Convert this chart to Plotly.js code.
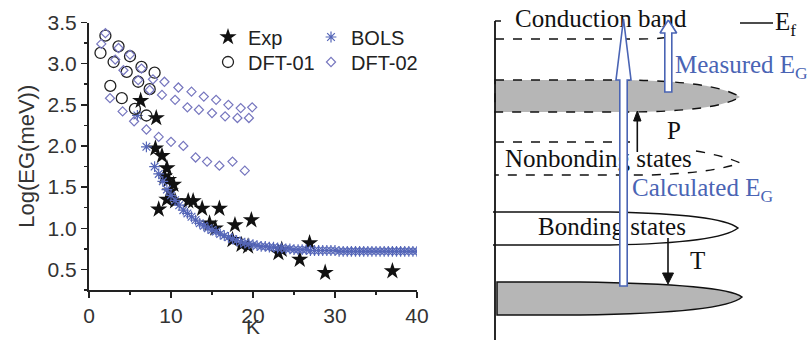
<!DOCTYPE html>
<html><head><meta charset="utf-8">
<script src="https://cdn.plot.ly/plotly-3.0.1.min.js"></script>
<style>html,body{margin:0;padding:0;background:#fff}#chart{width:807px;height:340px}</style>
</head><body><div id="chart"></div>
<script>
// ---- data ----
const expK = [6.3, 8.2, 8.1, 8.9, 9.2, 9.5, 9.7, 10.3, 9.9, 9.5, 8.5, 10.5, 12.1, 12.7, 13.8, 15.9, 14.7, 15.4, 17.8, 19.8, 17.5, 18.6, 19.4, 23.1, 23.5, 25.7, 26.9, 28.8, 37.0];
const expE = [2.55, 2.34, 1.97, 1.88, 1.63, 1.73, 1.59, 1.53, 1.45, 1.35, 1.23, 1.33, 1.33, 1.33, 1.24, 1.24, 1.06, 1.00, 1.04, 1.10, 0.86, 0.80, 0.78, 0.70, 0.74, 0.62, 0.82, 0.46, 0.48];

const dft01K = [1.4, 2.0, 3.0, 3.6, 4.6, 5.0, 6.0, 6.4, 7.4, 8.0, 2.6, 4.0, 5.6, 7.0];
const dft01E = [3.13, 3.34, 3.02, 3.21, 2.90, 3.09, 2.78, 2.96, 2.69, 2.89, 2.73, 2.58, 2.45, 2.37];

const dft02K = [1.5, 2.0, 3.2, 3.6, 4.2, 5.0, 6.0, 6.4, 7.4, 7.8,
  9.2, 10.9, 12.5, 14.0, 15.5, 17.0, 18.5, 19.9,
  8.9, 10.5, 12.0, 13.4, 15.0, 16.6, 18.1, 19.5,
  2.56, 4.1, 5.5, 7.0, 8.5, 10.0, 11.5, 13.0, 14.4, 15.9, 17.5, 19.0];
const dft02E = [3.24, 3.37, 3.05, 3.19, 2.92, 3.11, 2.80, 2.94, 2.68, 2.81,
  2.78, 2.71, 2.66, 2.60, 2.56, 2.50, 2.46, 2.47,
  2.62, 2.56, 2.47, 2.44, 2.40, 2.36, 2.34, 2.34,
  2.58, 2.42, 2.30, 2.20, 2.11, 2.05, 2.00, 1.86, 1.81, 1.76, 1.81, 1.70];

const bolsK = [5.9, 7.0, 8.0, 8.5, 9.0, 9.5, 10.0, 10.5, 11.0, 11.5, 12.0, 12.5, 13.0, 13.5, 14.0, 14.5, 15.0, 15.5, 16.0, 16.5, 17.0, 17.5, 18.0, 18.5, 19.0, 19.5, 20.0, 20.5, 21.0, 21.5, 22.0, 22.5, 23.0, 23.5, 24.0, 24.5, 25.0, 25.5, 26.0, 26.5, 27.0, 27.5, 28.0, 28.5, 29.0, 29.5, 30.0, 30.5, 31.0, 31.5, 32.0, 32.5, 33.0, 33.5, 34.0, 34.5, 35.0, 35.5, 36.0, 36.5, 37.0, 37.5, 38.0, 38.5, 39.0, 39.5, 40.0];
const bolsE = [2.37, 1.99, 1.75, 1.66, 1.57, 1.47, 1.40, 1.34, 1.28, 1.22, 1.18, 1.14, 1.10, 1.06, 1.03, 1.00, 0.98, 0.96, 0.93, 0.91, 0.89, 0.87, 0.85, 0.83, 0.82, 0.81, 0.80, 0.79, 0.78, 0.78, 0.77, 0.77, 0.76, 0.76, 0.75, 0.75, 0.74, 0.74, 0.74, 0.74, 0.73, 0.73, 0.73, 0.73, 0.73, 0.73, 0.73, 0.72, 0.72, 0.72, 0.72, 0.72, 0.72, 0.72, 0.72, 0.72, 0.72, 0.72, 0.72, 0.72, 0.72, 0.72, 0.72, 0.72, 0.72, 0.72, 0.72];

const seriesNames = ['Exp', 'BOLS', 'DFT-01', 'DFT-02'];
const xTitle = 'K';
const yTitle = 'Log(EG(meV))';

// schematic labels
const diagText = ['Conduction band', 'E<sub>f</sub>', 'Measured E<sub>G</sub>', 'P', 'Nonbonding states', 'Calculated E<sub>G</sub>', 'Bonding states', 'T'];
const diagBlueIdx = [2, 5];

// ---- layout helpers ----
const W = 807, H = 340;
const px = v => v / W, py = v => 1 - v / H;
const sans = 'Liberation Sans, Arial, sans-serif';
const serif = 'Liberation Serif, Times New Roman, serif';
const blue = '#4a64b4';
const gray = '#b6b6b6';

const traces = [
  {x: expK, y: expE, name: seriesNames[0], type: 'scatter', mode: 'markers', legend: 'legend',
   marker: {symbol: 'star', size: 13, color: '#111', line: {width: 0}}},
  {x: bolsK, y: bolsE, name: seriesNames[1], type: 'scatter', mode: 'markers', legend: 'legend2',
   marker: {symbol: 'asterisk-open', size: 9, color: '#5566b8', line: {width: 1.2, color: '#5566b8'}}},
  {x: dft01K, y: dft01E, name: seriesNames[2], type: 'scatter', mode: 'markers', legend: 'legend3',
   marker: {symbol: 'circle-open', size: 11, color: '#222', line: {width: 1.3, color: '#222'}}},
  {x: dft02K, y: dft02E, name: seriesNames[3], type: 'scatter', mode: 'markers', legend: 'legend4',
   marker: {symbol: 'diamond-open', size: 7, color: '#7777bf', line: {width: 1.2, color: '#7777bf'}}}
];

// schematic text positions (pixel frame)
const diagX = [515, 775, 675, 667, 505, 632, 538, 690];
const diagY = [21, 24, 67, 133, 161, 190, 229, 263];
diagText.forEach((t, i) => {
  traces.push({x: [diagX[i]], y: [diagY[i]], text: [t], xaxis: 'x2', yaxis: 'y2', type: 'scatter', mode: 'text',
    textposition: 'middle right', showlegend: false, hoverinfo: 'skip', cliponaxis: false,
    textfont: {family: serif, size: 25, color: diagBlueIdx.includes(i) ? blue : '#111'}});
});

// hollow arrows of the schematic (drawn after the texts so they cover them)
const arrowShapes = [
  {x: [623.5, 631, 627.2, 627.2, 619.8, 619.8, 616, 623.5], y: [19, 80, 80, 286, 286, 80, 80, 19]},
  {x: [668.3, 676.7, 671.8, 671.8, 664.8, 664.8, 660, 668.3], y: [20, 33, 33, 92, 92, 33, 33, 20]}
];
arrowShapes.forEach(a => {
  traces.push({x: a.x, y: a.y, xaxis: 'x2', yaxis: 'y2', type: 'scatter', mode: 'lines', fill: 'toself',
    fillcolor: '#fff', line: {color: blue, width: 1.6}, showlegend: false, hoverinfo: 'skip', cliponaxis: false});
});

const axFont = {family: sans, size: 21, color: '#333'};
const legendBase = {xanchor: 'left', yanchor: 'middle', bgcolor: 'rgba(0,0,0,0)', borderwidth: 0,
  font: {family: sans, size: 20, color: '#222'}};

const S = (o) => Object.assign({xref: 'x2', yref: 'y2'}, o);
const shapes = [
  S({type: 'line', x0: 495, y0: 21, x1: 495, y1: 340, line: {color: '#111', width: 1.8}}),
  S({type: 'line', x0: 495, y0: 21, x1: 501, y1: 21, line: {color: '#111', width: 1.5}}),
  S({type: 'line', x0: 740, y0: 23, x1: 773, y1: 23, line: {color: '#111', width: 1.5}}),
  S({type: 'path', path: 'M495,39 L640,39 Q662,39 673,36', line: {color: '#111', width: 1.4, dash: 'dash'}, layer: 'below'}),
  S({type: 'path', path: 'M495,80 L625,80 Q715,81 740,97 Q715,112 625,112 L495,112 Z', fillcolor: gray, line: {color: '#111', width: 1.4, dash: 'dash'}, layer: 'below'}),
  S({type: 'path', path: 'M495,142 L637,142 M696,151 Q725,156 740,163 Q712,173 650,175 L495,175', line: {color: '#111', width: 1.4, dash: 'dash'}, layer: 'below'}),
  S({type: 'path', path: 'M493,212 L610,212 Q720,214 738,228 Q720,243 610,245 L493,245', line: {color: '#111', width: 1.5}, layer: 'below'}),
  S({type: 'path', path: 'M497,282 L580,282 Q725,284 742,297 Q725,313 580,315 L497,315 Z', fillcolor: gray, line: {color: '#111', width: 1.5}, layer: 'below'}),
  S({type: 'line', x0: 637.3, y0: 152, x1: 637.3, y1: 119, line: {color: '#111', width: 1.6}, layer: 'above'}),
  S({type: 'path', path: 'M637.3,111 L641,121 L633.6,121 Z', fillcolor: '#111', line: {color: '#111', width: 1}, layer: 'above'}),
  S({type: 'line', x0: 668, y0: 238, x1: 668, y1: 275, line: {color: '#111', width: 1.6}, layer: 'above'}),
  S({type: 'path', path: 'M668,284 L673.5,273 L662.5,273 Z', fillcolor: '#111', line: {color: '#111', width: 1}, layer: 'above'})
];

const layout = {
  width: W, height: H, margin: {l: 0, r: 0, t: 0, b: 0},
  paper_bgcolor: '#fff', plot_bgcolor: 'rgba(0,0,0,0)',
  xaxis: {domain: [px(89), px(417)], range: [0, 40], anchor: 'y', showline: true, linecolor: '#222', linewidth: 2,
    ticks: 'outside', ticklen: 6, tickwidth: 1.5, tickcolor: '#222', tick0: 0, dtick: 10,
    minor: {ticks: 'outside', ticklen: 3, dtick: 5, tickwidth: 1.5, tickcolor: '#222'},
    showgrid: false, zeroline: false, tickfont: axFont, title: {text: ''}},
  yaxis: {domain: [py(290), py(22.5)], range: [0.25, 3.5], anchor: 'x', showline: true, linecolor: '#222', linewidth: 2,
    ticks: 'outside', ticklen: 6, tickwidth: 1.5, tickcolor: '#222', tick0: 0.5, dtick: 0.5, tickformat: '.1f',
    minor: {ticks: 'outside', ticklen: 3, dtick: 0.25, tickwidth: 1.5, tickcolor: '#222'},
    showgrid: false, zeroline: false, tickfont: axFont, title: {text: yTitle, font: {family: sans, size: 22, color: '#333'}}},
  xaxis2: {domain: [0, 1], range: [0, W], anchor: 'y2', visible: false, fixedrange: true},
  yaxis2: {domain: [0, 1], range: [H, 0], anchor: 'x2', visible: false, fixedrange: true},
  legend: Object.assign({x: px(208), y: py(37)}, legendBase),
  legend2: Object.assign({x: px(311), y: py(37)}, legendBase),
  legend3: Object.assign({x: px(208), y: py(62)}, legendBase),
  legend4: Object.assign({x: px(311), y: py(62)}, legendBase),
  annotations: [{text: xTitle, xref: 'paper', yref: 'paper', x: px(253), y: 0, xanchor: 'center', yanchor: 'bottom',
    showarrow: false, font: {family: sans, size: 21, color: '#333'}}],
  shapes: shapes,
  showlegend: true
};

Plotly.newPlot('chart', traces, layout, {displayModeBar: false, staticPlot: true});
</script></body></html>
